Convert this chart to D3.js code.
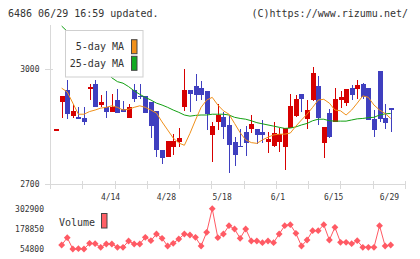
<!DOCTYPE html>
<html><head><meta charset="utf-8">
<script src="https://cdn.jsdelivr.net/npm/d3@7"></script>
<style>body{margin:0;background:#fff}svg{display:block}</style>
</head><body><svg id="c" width="420" height="259"></svg>
<script>
// ---- data (index 0 = previous day doji, 1..60 = trading days) ----
const tickLabels = ["4/14","4/28","5/18","6/1","6/15","6/29"];
const tickIndex  = [10,20,30,40,50,60];
const priceTicks = [2700,3000];
const volumeTicks = [54800,178850,302900];

const open = [2843,2915,2945,2877,2875,2872,2949,2961,2907,2900,2889,
  2919,2896,2873,2945,2930,2930,2915,2890,2789,2770,
  2797,2810,2902,2945,2956,2950,2943,2828,2862,2874,
  2854,2810,2800,2836,2844,2843,2836,2810,2799,2810,
  2797,2845,2877,2935,2870,2919,2956,2808,2884,2862,
  2919,2912,2950,2948,2961,2950,2870,2995,2873,2897];
const high = [2843,2930,2971,2906,2900,2900,2960,2971,2932,2943,2935,
  2947,2916,2910,2960,2960,2930,2915,2890,2789,2813,
  2830,2847,3000,2945,2987,2969,2943,2862,2910,2889,
  2880,2822,2843,2851,2880,2843,2867,2836,2862,2845,
  2845,2935,2932,2935,2919,3006,2982,2850,2895,2950,
  2943,2948,2958,2971,2964,2950,2893,2995,2910,2897];
const low = [2843,2873,2869,2872,2869,2854,2919,2900,2900,2873,2887,
  2884,2887,2872,2915,2922,2884,2819,2770,2752,2770,
  2776,2797,2891,2889,2917,2919,2841,2758,2841,2817,
  2730,2748,2797,2773,2832,2804,2806,2780,2797,2784,
  2737,2845,2874,2889,2843,2917,2854,2767,2821,2861,
  2897,2903,2919,2922,2922,2866,2823,2862,2843,2836];
const close = [2843,2930,2882,2891,2870,2862,2954,2902,2914,2889,2900,
  2886,2889,2900,2922,2926,2884,2851,2789,2769,2813,
  2813,2821,2945,2935,2932,2932,2882,2851,2880,2850,
  2802,2776,2797,2806,2856,2828,2828,2818,2832,2830,
  2845,2903,2923,2922,2893,2990,2873,2850,2823,2922,
  2926,2948,2932,2958,2928,2866,2841,2869,2860,2896];
const volume = [null,79400,124400,54800,56600,54800,89900,87400,65300,85600,85600,
  65300,65300,104000,85600,85600,126800,105900,147100,120700,73300,
  89900,116400,147100,141000,126800,73300,157600,302900,124400,147100,
  198200,177900,120700,177900,104000,104000,93600,104000,93600,147100,
  198200,204400,151400,73300,110200,167500,167500,204400,110200,188400,
  96000,96000,87400,105900,65300,65300,65300,198200,73300,79400];
const ma5 = [null,2950,2940,2911,2882,2882,2889,2893,2898,2900,2904,
  2900,2893,2895,2900,2904,2900,2893,2885,2862,2841,
  2820,2807,2801,2832,2867,2900,2919,2926,2906,2891,
  2882,2858,2834,2815,2808,2806,2815,2822,2828,2830,
  2830,2833,2851,2867,2882,2900,2919,2921,2911,2893,
  2891,2880,2893,2911,2930,2926,2906,2893,2884,2871];
const ma25 = [null,3112,3098,3084,3068,3052,3037,3021,3005,2991,2977,
  2967,2963,2954,2943,2934,2926,2919,2911,2906,2900,
  2893,2887,2880,2877,2879,2880,2880,2882,2882,2882,
  2880,2874,2871,2869,2865,2860,2857,2854,2851,2848,
  2845,2846,2849,2854,2858,2865,2869,2869,2865,2864,
  2864,2864,2867,2870,2871,2873,2874,2880,2883,2884];

// ---- drawing ----
const svg = d3.select("#c");
const mono = "'DejaVu Sans Mono', 'Liberation Mono', monospace";
const n = open.length;
const x = d3.scaleLinear().domain([0, n - 1]).range([56.1, 390.7]);
const y = d3.scaleLinear().domain([2700, 3000]).range([184, 69]);
const yv = d3.scaleLinear().domain([54800, 302900]).range([249, 208.7]);
const grid = d3.scaleLinear().domain([0, 11]).range([50, 405]);
const axisColor = "#d9d9d9";
const RED = "#d70000", BLUE = "#3f3fbf";

// header
svg.append("text").attr("x", 8).attr("y", 16.5).attr("font-family", mono).attr("font-size", 10)
  .attr("fill", "#333").text("6486 06/29 16:59 updated.");
svg.append("text").attr("x", 408).attr("y", 16.5).attr("text-anchor", "end").attr("font-family", mono)
  .attr("font-size", 10).attr("fill", "#333").text("(C)https://www.rizumu.net/");

// axes
svg.append("line").attr("x1", 50.5).attr("x2", 50.5).attr("y1", 25).attr("y2", 189)
  .attr("stroke", axisColor);
svg.append("line").attr("x1", 50).attr("x2", 405).attr("y1", 184.5).attr("y2", 184.5)
  .attr("stroke", axisColor);
svg.append("g").selectAll("line").data(d3.range(0, 12)).join("line")
  .attr("x1", d => Math.round(grid(d)) + 0.5).attr("x2", d => Math.round(grid(d)) + 0.5)
  .attr("y1", 181).attr("y2", 189).attr("stroke", axisColor);
svg.append("g").selectAll("line").data(priceTicks).join("line")
  .attr("x1", 45).attr("x2", 53).attr("y1", d => Math.round(y(d)) + 0.5).attr("y2", d => Math.round(y(d)) + 0.5)
  .attr("stroke", axisColor);
svg.append("g").selectAll("text").data(priceTicks).join("text")
  .attr("x", 39.5).attr("y", d => y(d)).attr("dy", "0.35em").attr("text-anchor", "end")
  .attr("font-family", mono).attr("font-size", 8).attr("fill", "#333").text(d => d);
svg.append("g").selectAll("text").data(tickLabels).join("text")
  .attr("x", (d, i) => x(tickIndex[i]) - 1.3).attr("y", 197).attr("dy", "0.35em").attr("text-anchor", "middle")
  .attr("font-family", mono).attr("font-size", 8).attr("fill", "#333").text(d => d);

// clip
svg.append("clipPath").attr("id", "pc").append("rect").attr("x", 51).attr("y", 25).attr("width", 354).attr("height", 159);
const plot = svg.append("g").attr("clip-path", "url(#pc)");

// candles
const idx = d3.range(n);
const cg = plot.append("g").attr("shape-rendering", "crispEdges");
cg.selectAll("line").data(idx).join("line")
  .attr("x1", i => Math.round(x(i)) + 0.5).attr("x2", i => Math.round(x(i)) + 0.5)
  .attr("y1", i => y(high[i])).attr("y2", i => y(low[i]))
  .attr("stroke", i => close[i] >= open[i] ? RED : BLUE);
cg.selectAll("rect").data(idx).join("rect")
  .attr("x", i => Math.round(x(i)) - 2).attr("width", 5)
  .attr("y", i => y(Math.max(open[i], close[i])))
  .attr("height", i => Math.max(1.5, Math.abs(y(open[i]) - y(close[i]))))
  .attr("fill", i => close[i] >= open[i] ? RED : BLUE);

// moving averages
const maLine = arr => d3.line().defined(i => arr[i] != null).x(i => x(i)).y(i => y(arr[i]));
plot.append("path").datum(idx).attr("d", maLine(ma25)).attr("fill", "none").attr("stroke", "#12a012").attr("stroke-width", 1);
plot.append("path").datum(idx).attr("d", maLine(ma5)).attr("fill", "none").attr("stroke", "#f0901a").attr("stroke-width", 1);

// legend
const lg = svg.append("g");
lg.append("rect").attr("x", 65.5).attr("y", 30.5).attr("width", 77.5).attr("height", 46.5)
  .attr("fill", "#fff").attr("stroke", "#cfcfcf");
const legendItems = [["5-day MA", "#f0901a", 46.7], ["25-day MA", "#12aa22", 63.3]];
legendItems.forEach(([t, c, cy]) => {
  lg.append("text").attr("x", 124).attr("y", cy).attr("dy", "0.35em").attr("text-anchor", "end")
    .attr("font-family", mono).attr("font-size", 10).attr("fill", "#333").text(t);
  lg.append("rect").attr("x", 131.5).attr("y", cy - 7).attr("width", 5.5).attr("height", 14)
    .attr("fill", c).attr("stroke", "#444");
});

// volume
const vIdx = idx.filter(i => volume[i] != null);
const VCOL = "#ff5a64";
svg.append("path").datum(vIdx)
  .attr("d", d3.line().x(i => x(i)).y(i => yv(volume[i])))
  .attr("fill", "none").attr("stroke", VCOL).attr("stroke-width", 1);
svg.append("g").selectAll("path").data(vIdx).join("path")
  .attr("d", i => { const cx = x(i), cy = yv(volume[i]), r = 3.4;
    return `M${cx},${cy - r}L${cx + r},${cy}L${cx},${cy + r}L${cx - r},${cy}Z`; })
  .attr("fill", VCOL);
svg.append("g").selectAll("text").data(volumeTicks).join("text")
  .attr("x", 44).attr("y", d => yv(d)).attr("dy", "0.35em").attr("text-anchor", "end")
  .attr("font-family", mono).attr("font-size", 8).attr("fill", "#333").text(d => d);
svg.append("text").attr("x", 59).attr("y", 222.3).attr("dy", "0.35em").attr("font-family", mono)
  .attr("font-size", 10).attr("fill", "#333").text("Volume");
svg.append("rect").attr("x", 101.5).attr("y", 213.5).attr("width", 5.5).attr("height", 14.5)
  .attr("fill", "#ff6066").attr("stroke", "#444");
</script></body></html>
